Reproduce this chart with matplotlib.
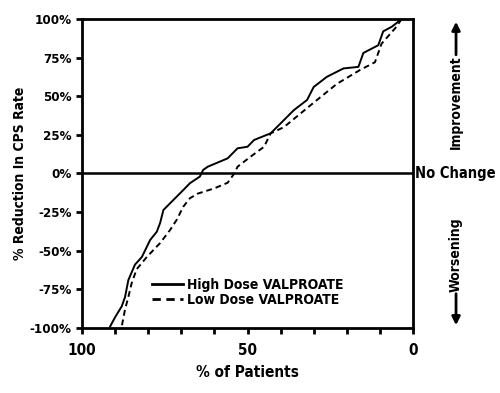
import numpy as np
import matplotlib
matplotlib.use("Agg")
import matplotlib.pyplot as plt

plt.rcParams['font.family'] = ['DejaVu Sans']
plt.rcParams['font.stretch'] = 'condensed'
plt.rcParams['font.weight'] = 'bold'
plt.rcParams['axes.unicode_minus'] = False

# % of patients vs % reduction in CPS rate
high_x = [3.4, 6.4, 9.0, 10.5, 15, 16.5, 21, 26, 30, 32, 36, 43, 48, 50, 53, 56, 62,
          63.4, 64.4, 67.4, 69.4, 71.4, 73.4, 75.4, 76.4, 77.4, 79.4, 81.9, 84, 86, 87, 88, 90, 91.5]
high_y = [100, 95, 92, 83, 78, 69, 68, 62.6, 56, 47.6, 41, 26, 21.7, 17.3, 16.3, 9.8, 4.4,
          2.3, -2, -6.3, -10.7, -15, -19.3, -23.6, -32, -37.7, -43, -54, -59, -69, -80, -86, -93, -99]
low_x = [3.4, 5.4, 9.5, 11.5, 16, 23, 29, 39, 43, 45, 49, 53, 54, 56, 60, 65, 67.4,
         69.4, 71.4, 73.4, 76.4, 80.4, 83.5, 85, 86, 87, 88]
low_y = [100, 94, 84, 72, 67, 58, 47.6, 30, 26, 17.3, 11, 4.4, 0, -6, -9.6, -13, -16,
         -21.5, -30, -36.6, -45, -54, -62, -71, -80, -88, -99]
yticks = [-100, -75, -50, -25, 0, 25, 50, 75, 100]
xticks = [100, 50, 0]

fig = plt.figure(figsize=(5, 3.93), dpi=100)
ax = fig.add_axes([0.164, 0.1654, 0.662, 0.7863])

ax.plot(high_x, high_y, color='black', lw=1.4, label='High Dose VALPROATE')
ax.plot(low_x, low_y, color='black', lw=1.4, ls=(0, (3, 2)), label='Low Dose VALPROATE')
ax.axhline(0, color='black', lw=1.8)

ax.set_xlim(100, 0)
ax.set_ylim(-100, 100)
ax.set_yticks(yticks)
ax.set_yticklabels(['%d%%' % v for v in yticks])
ax.set_xticks(xticks)
ax.set_xticks(np.arange(0, 101, 10), minor=True)
ax.tick_params(axis='both', which='both', direction='out', width=2, length=4, labelsize=9.5)
ax.tick_params(axis='x', which='major', labelsize=11, pad=7)
for s in ax.spines.values():
    s.set_linewidth(2)

ax.set_xlabel('% of Patients', fontsize=11, fontweight='bold', labelpad=5)
ax.set_ylabel('% Reduction In CPS Rate', fontsize=10, fontweight='bold', labelpad=2)

leg = ax.legend(loc='lower left', bbox_to_anchor=(0.195, 0.05), frameon=False,
                fontsize=10, handlelength=2.2, handletextpad=0.3, labelspacing=0.05,
                borderaxespad=0)
for line in leg.get_lines():
    line.set_linewidth(2)

# right side annotations
ax.text(1.005, 0.5, 'No Change', transform=ax.transAxes, ha='left', va='center',
        fontsize=10.5, fontweight='bold')
ax.text(1.13, 0.73, 'Improvement', transform=ax.transAxes, ha='center', va='center',
        rotation=90, fontsize=10, fontweight='bold')
ax.text(1.13, 0.236, 'Worsening', transform=ax.transAxes, ha='center', va='center',
        rotation=90, fontsize=10, fontweight='bold')
ax.annotate('', xy=(1.13, 1.0), xytext=(1.13, 0.875), xycoords='axes fraction',
            arrowprops=dict(arrowstyle='-|>', color='black', lw=2, mutation_scale=12))
ax.annotate('', xy=(1.13, 0.0), xytext=(1.13, 0.12), xycoords='axes fraction',
            arrowprops=dict(arrowstyle='-|>', color='black', lw=2, mutation_scale=12))

fig.savefig('out.png', dpi=100)
